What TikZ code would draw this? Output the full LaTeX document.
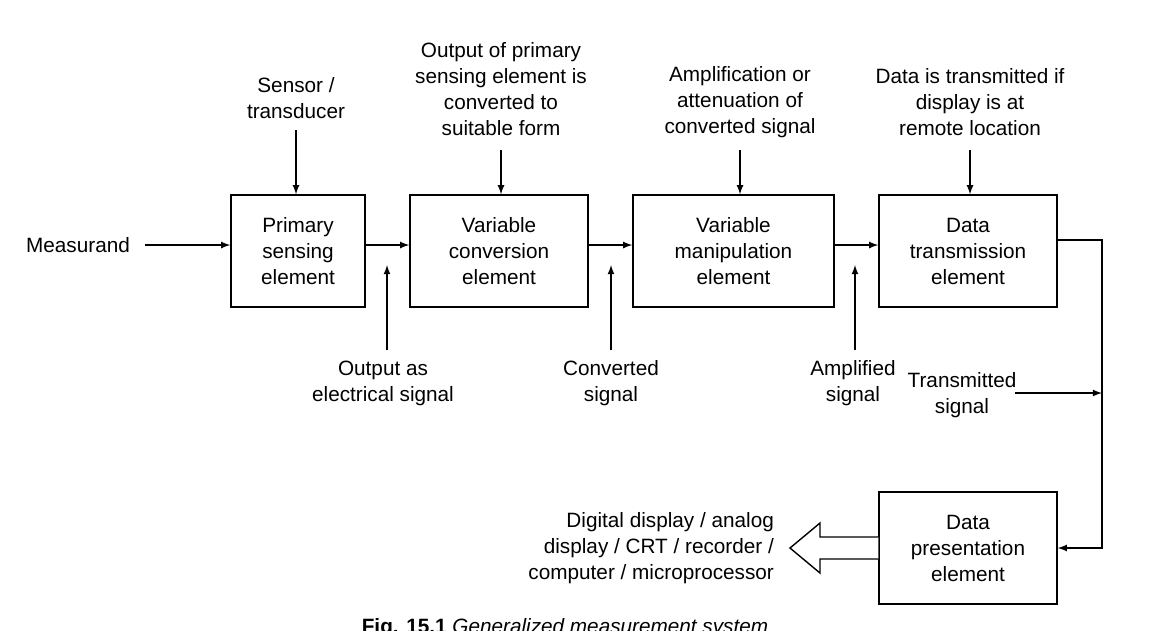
\documentclass[tikz,border=0pt]{standalone}
\usepackage{fontspec}
\setmainfont{Liberation Sans}
\begin{document}
\begin{tikzpicture}[x=0.02cm, y=-0.02cm,
    every node/.style={font=\fontsize{11.8}{14.8}\selectfont, align=center},
    block/.style={draw, thick, minimum width=178*0.02cm, minimum height=112*0.02cm, inner sep=0pt},
    lab/.style={inner sep=1pt},
    sig/.style={-latex, thick}]
    \useasboundingbox (0, 0) rectangle (1153, 630);

    \node [block, minimum width=134*0.02cm] (pse) at (298, 251) {Primary\\sensing\\element};
    \node [block] (vce) at (499, 251) {Variable\\conversion\\element};
    \node [block, minimum width=201*0.02cm] (vme) at (733.5, 251) {Variable\\manipulation\\element};
    \node [block] (dte) at (968, 251) {Data\\transmission\\element};
    \node [block] (dpe) at (968, 548) {Data\\presentation\\element};

    \node [lab] (meas) at (78, 245) {Measurand};
    \node [lab] (sens) at (296, 98) {Sensor /\\transducer};
    \node [lab] (outp) at (501, 89) {Output of primary\\sensing element is\\converted to\\suitable form};
    \node [lab] (ampl) at (740, 102) {Amplification or\\attenuation of\\converted signal};
    \node [lab] (data) at (970, 102) {Data is transmitted if\\display is at\\remote location};
    \node [lab] (elec) at (383, 383) {Output as\\electrical signal};
    \node [lab] (conv) at (611, 383) {Converted\\signal};
    \node [lab] (amps) at (853, 383) {Amplified\\signal};
    \node [lab] (tran) at (962, 395) {Transmitted\\signal};
    \node [lab, align=right, anchor=east] (disp) at (776, 548) {Digital display / analog\\display / CRT / recorder /\\computer / microprocessor};
    \node [lab, anchor=north] (cap) at (565, 616) {\textbf{Fig. 15.1} \textit{Generalized measurement system}};

    % hollow output arrow
    \coordinate (tip) at (790, 548);
    \draw [thick, fill=white] (dpe.west) ++(0, -11) -- (820, 537) -- (820, 523) -- (tip)
        -- (820, 573) -- (820, 559) -- (dpe.west |- 0, 559);

    \coordinate (c1) at (145, 245);
    \coordinate (c2) at (1102, 240);
    \coordinate (c3) at (1102, 548);
    \coordinate (c4) at (1015, 393);
    \coordinate (c5) at (1102, 393);
    \coordinate (u1) at (387, 350);
    \coordinate (u2) at (611, 350);
    \coordinate (u3) at (855, 350);
    \coordinate (d1) at (296, 130);
    \coordinate (d2) at (501, 150);
    \coordinate (d3) at (740, 150);
    \coordinate (d4) at (970, 150);

    \draw [sig] (c1) to (pse.west |- c1);
    \draw [sig] (pse.east |- c1) to (vce.west |- c1);
    \draw [sig] (vce.east |- c1) to (vme.west |- c1);
    \draw [sig] (vme.east |- c1) to (dte.west |- c1);
    \draw [sig] (dte.east |- c2) -- (c2) -- (c3) -- (dpe.east);
    \draw [sig] (c4) to (c5);

    \draw [sig] (d1) to (d1 |- pse.north);
    \draw [sig] (d2) to (d2 |- vce.north);
    \draw [sig] (d3) to (d3 |- vme.north);
    \draw [sig] (d4) to (d4 |- dte.north);
    \draw [sig] (u1) to +(0, -85);
    \draw [sig] (u2) to +(0, -85);
    \draw [sig] (u3) to +(0, -85);
  \end{tikzpicture}
\end{document}
